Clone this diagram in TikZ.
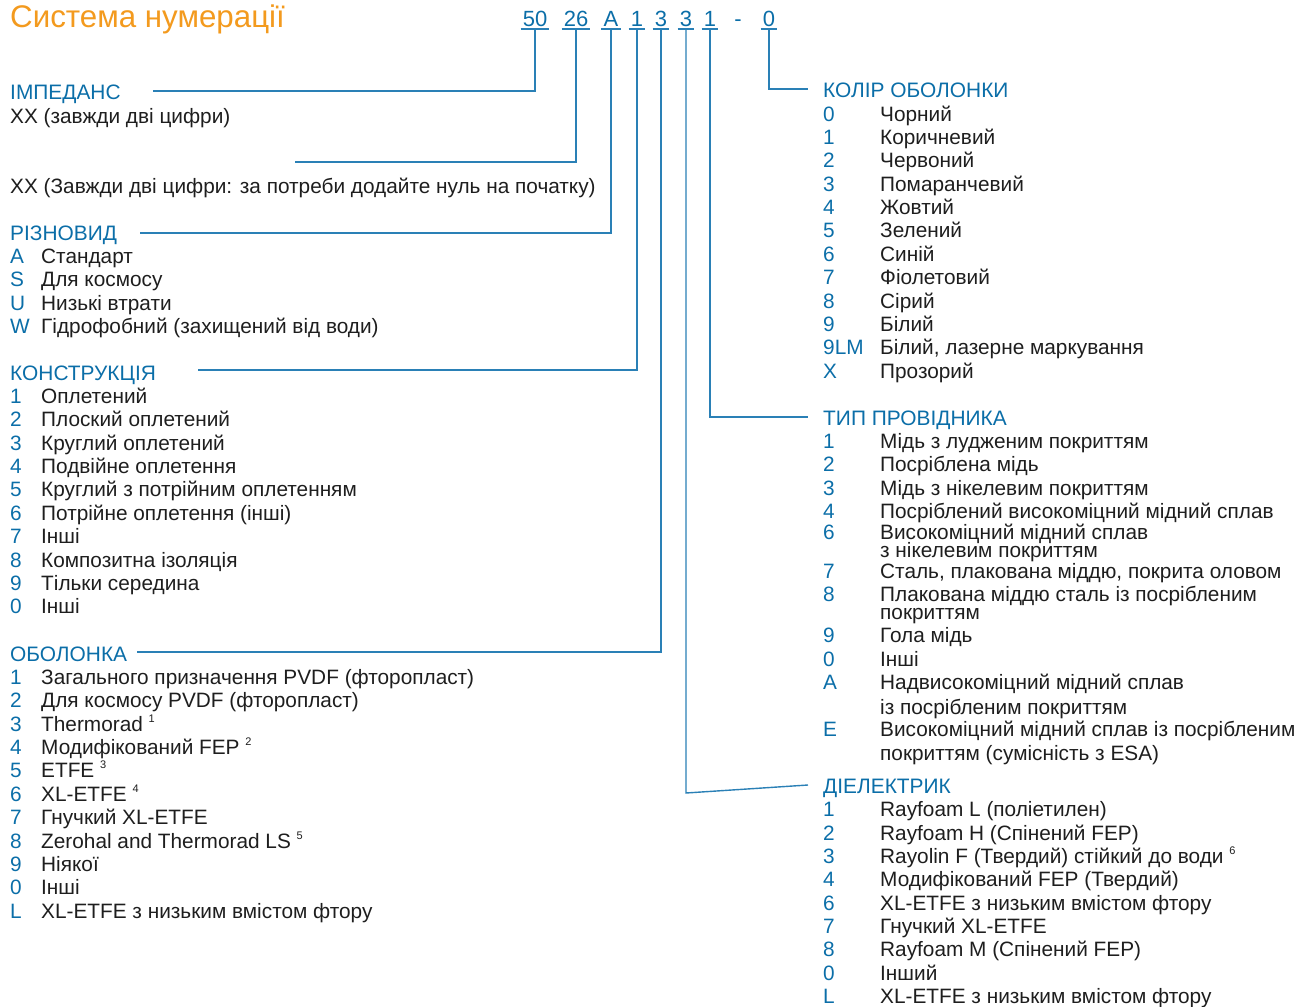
\documentclass[tikz,border=0pt]{standalone}
\usepackage{fontspec}
\usepackage{graphicx}
\setmainfont{Liberation Sans}
\definecolor{cblue}{HTML}{0B6EA8}
\definecolor{lblue}{HTML}{2A80B6}
\definecolor{corange}{HTML}{F39A1E}
\definecolor{ctext}{HTML}{1E1E1E}
\newcommand\fnm[1]{ {\fontsize{11}{11}\selectfont\raisebox{9pt}{#1}}}
\tikzset{
  hdr/.style={anchor=base west, inner sep=0pt, text=cblue, font=\fontsize{20.9}{21}\selectfont},
  cde/.style={anchor=base west, inner sep=0pt, text=cblue, font=\fontsize{20.8}{21}\selectfont},
  txt/.style={anchor=base west, inner sep=0pt, text=ctext, font=\fontsize{20.8}{21}\selectfont},
  pn/.style={anchor=base, inner ysep=0pt, inner xsep=2pt, text=cblue, font=\fontsize{22}{22}\selectfont},
  ln/.style={draw=lblue, line width=1.4pt},
  ul/.style={draw=lblue, line width=1.3pt},
}
\begin{document}
\begin{tikzpicture}[x=1pt,y=-1pt]
\useasboundingbox (0,0) rectangle (1310,1007);
% title
\node[anchor=base west, inner sep=0pt, text=corange, font=\fontsize{31.3}{32}\selectfont] (title) at (10,27.5) {Система нумерації};
% part number
\node[pn] (c50) at (535,26) {50};
\node[pn] (c26) at (576,26) {26};
\node[pn] (cA) at (611,26) {A};
\node[pn] (c1a) at (637,26) {1};
\node[pn] (c3a) at (661,26) {3};
\node[pn] (c3b) at (686,26) {3};
\node[pn] (c1b) at (710,26) {1};
\node[pn] (cdash) at (738,26) {-};
\node[pn] (c0) at (769,26) {0};
\foreach \n in {c50,c26,cA,c1a,c3a,c3b,c1b,c0}{
  \draw[ul] ([yshift=-3pt]\n.base west) -- ([yshift=-3pt]\n.base east);
}
% connector end points
\coordinate (e50) at (153,91);
\coordinate (e26) at (295,162);
\coordinate (eA) at (140,233);
\coordinate (e1a) at (198,370);
\coordinate (e3a) at (137,652);
\coordinate (k3b) at (686,793);
\coordinate (e3b) at (808,785);
\coordinate (e1b) at (808,417);
\coordinate (e0) at (808,89);
\draw[ln] ([yshift=-3pt]c50.base) |- (e50);
\draw[ln] ([yshift=-3pt]c26.base) |- (e26);
\draw[ln] ([yshift=-3pt]cA.base) |- (eA);
\draw[ln] ([yshift=-3pt]c1a.base) |- (e1a);
\draw[ln] ([yshift=-3pt]c3a.base) |- (e3a);
\draw[ln] ([yshift=-3pt]c3b.base) -- (k3b) -- (e3b);
\draw[ln] ([yshift=-3pt]c1b.base) |- (e1b);
\draw[ln] ([yshift=-3pt]c0.base) |- (e0);
% ---------- left column
\node[hdr] (himp) at (10,99.5) {ІМПЕДАНС};
\node[txt] (timp) at (10,123) {ХХ (завжди дві цифри)};
\node[txt] (t26) at (10,193) {ХХ (Завжди дві цифри: за потреби додайте нуль на початку)};
\node[hdr] (hriz) at (10,240) {РІЗНОВИД};
\foreach \c/\t [count=\i] in {A/Стандарт, S/Для космосу, U/Низькі втрати, W/Гідрофобний (захищений від води)}{
  \node[cde] (rc\i) at (10,{263.4+23.37*(\i-1)}) {\c};
  \node[txt] (rt\i) at (41,{263.4+23.37*(\i-1)}) {\t};
}
\node[hdr] (hkon) at (10,380) {КОНСТРУКЦІЯ};
\foreach \c/\t [count=\i] in {1/Оплетений, 2/Плоский оплетений, 3/Круглий оплетений, 4/Подвійне оплетення, 5/Круглий з потрійним оплетенням, 6/Потрійне оплетення (інші), 7/Інші, 8/Композитна ізоляція, 9/Тільки середина, 0/Інші}{
  \node[cde] (kc\i) at (10,{403.5+23.37*(\i-1)}) {\c};
  \node[txt] (kt\i) at (41,{403.5+23.37*(\i-1)}) {\t};
}
\node[hdr] (hobo) at (10,661) {ОБОЛОНКА};
\foreach \c/\t [count=\i] in {1/Загального призначення PVDF (фторопласт), 2/Для космосу PVDF (фторопласт), 3/Thermorad\fnm{1}, 4/Модифікований FEP\fnm{2}, 5/ETFE\fnm{3}, 6/XL-ETFE\fnm{4}, 7/Гнучкий XL-ETFE, 8/Zerohal and Thermorad LS\fnm{5}, 9/Ніякої, 0/Інші, L/XL-ETFE з низьким вмістом фтору}{
  \node[cde] (oc\i) at (10,{684.5+23.37*(\i-1)}) {\c};
  \node[txt] (ot\i) at (41,{684.5+23.37*(\i-1)}) {\t};
}
% ---------- right column
\node[hdr] (hkol) at (823,97.5) {КОЛІР ОБОЛОНКИ};
\foreach \c/\t [count=\i] in {0/Чорний, 1/Коричневий, 2/Червоний, 3/Помаранчевий, 4/Жовтий, 5/Зелений, 6/Синій, 7/Фіолетовий, 8/Сірий, 9/Білий, 9LM/{Білий, лазерне маркування}, X/Прозорий}{
  \node[cde] (lc\i) at (823,{121+23.39*(\i-1)}) {\c};
  \node[txt] (lt\i) at (880,{121+23.39*(\i-1)}) {\t};
}
\node[hdr] (htip) at (823,425) {ТИП ПРОВІДНИКА};
\foreach \c/\t/\y [count=\i] in {1/Мідь з лудженим покриттям/448.3, 2/Посріблена мідь/471.7, 3/Мідь з нікелевим покриттям/495, 4/Посріблений високоміцний мідний сплав/518.3, 6/Високоміцний мідний сплав/539.5, 7/{Сталь, плакована міддю, покрита оловом}/578.3, 8/Плакована міддю сталь із посрібленим/601.7, 9/Гола мідь/642.7, 0/Інші/666, A/Надвисокоміцний мідний сплав/689.3, E/Високоміцний мідний сплав із посрібленим/736.7}{
  \node[cde] (pc\i) at (823,\y) {\c};
  \node[txt] (pt\i) at (880,\y) {\t};
}
\node[txt] (pt5b) at (880,557.5) {з нікелевим покриттям};
\node[txt] (pt7b) at (880,619) {покриттям};
\node[txt] (pt10b) at (880,714.5) {із посрібленим покриттям};
\node[txt] (pt11b) at (880,760.7) {покриттям (сумісність з ESA)};
\node[hdr] (hdie) at (823,793.3) {ДІЕЛЕКТРИК};
\foreach \c/\t [count=\i] in {1/Rayfoam L (поліетилен), 2/Rayfoam H (Спінений FEP), 3/Rayolin F (Твердий) стійкий до води\fnm{6}, 4/Модифікований FEP (Твердий), 6/XL-ETFE з низьким вмістом фтору, 7/Гнучкий XL-ETFE, 8/Rayfoam M (Спінений FEP), 0/Інший, L/XL-ETFE з низьким вмістом фтору}{
  \node[cde] (dc\i) at (823,{816.7+23.33*(\i-1)}) {\c};
  \node[txt] (dt\i) at (880,{816.7+23.33*(\i-1)}) {\t};
}
\end{tikzpicture}
\end{document}
